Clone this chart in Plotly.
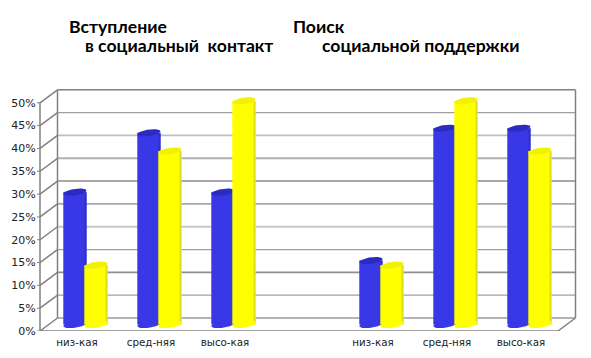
import numpy as np
import plotly.graph_objects as go

# ---- data ----
slots = [0, 1, 2, 4, 5, 6]
tick_labels = ["низ-кая", "сред-няя", "высо-кая", "низ-кая", "сред-няя", "высо-кая"]
blue_values = [29, 42, 29, 14, 43, 43]
yellow_values = [13, 38, 49, 13, 49, 38]
y_ticks = [0, 5, 10, 15, 20, 25, 30, 35, 40, 45, 50]
y_labels = ["0%", "5%", "10%", "15%", "20%", "25%", "30%", "35%", "40%", "45%", "50%"]
grid_widths = [1.6, 1.3, 1.6, 1.3, 1.8, 1.8, 2.0, 2.0, 1.8, 1.3, 1.6]
grid_colors = ["#9a9a9a", "#a0a0a0", "#8f8f8f", "#a0a0a0", "#c8c8c8", "#a8a8a8", "#a8a8a8", "#b0b0b0", "#c0c0c0", "#a0a0a0", "#808080"]

# ---- layout geometry (pixels) ----
W, H = 591, 358
L, R, T, B = 40, 558, 79.87, 331
plot_w, plot_h = R - L, B - T
X_RANGE = (-0.5, 6.5)
Y_RANGE = (0, 55)
ux = plot_w / (X_RANGE[1] - X_RANGE[0])   # px per slot
uy = plot_h / (Y_RANGE[1] - Y_RANGE[0])   # px per percent
DX, DY = 17.5, 13                         # depth of the box
BAR_W = 23.2 / ux
BLUE_OFF = -13.7 / ux
YEL_OFF = 7.3 / ux
BASE = (DY / 2) / uy
STRIP = 2.0 / ux
A = BAR_W / 2
B_CAP = 3.3 / uy
TILT = 1.5 / uy
AXIS = "#808080"

fig = go.Figure()
shapes = []


def line(x0, y0, x1, y1, color=AXIS, width=1.5):
    shapes.append(dict(type="line", xref="paper", yref="y", x0=x0, y0=y0, x1=x1, y1=y1,
                       line=dict(color=color, width=width), layer="below"))


dx_p, dy_u = DX / plot_w, DY / uy
for t, w, c in zip(y_ticks, grid_widths, grid_colors):
    line(dx_p, t + dy_u, dx_p + 1, t + dy_u, c, w)          # back wall
    line(0, t, dx_p, t + dy_u, AXIS, 1.5)                   # side wall
    line(-3 / plot_w, t, 0, t, AXIS, 1)                     # tick mark
line(0, 0, 0, 50)
line(dx_p, dy_u, dx_p, 50 + dy_u)
line(1 + dx_p, dy_u, 1 + dx_p, 50 + dy_u)
line(0, 0, 1, 0)
line(1, 0, 1 + dx_p, dy_u)


def ellipse(cx, cy):
    t = np.linspace(0, 2 * np.pi, 41)
    return cx + A * np.cos(t), cy + B_CAP * np.sin(t) + TILT * np.cos(t)


def add_series(values, off, main, edge, cap, z):
    xs = np.array(slots, dtype=float)
    tops = np.array(values, dtype=float)
    fig.add_trace(go.Bar(x=xs, y=tops, base=BASE, offset=off, width=BAR_W, cliponaxis=False,
                         marker=dict(color=main, line=dict(width=0)), zorder=z, showlegend=False))
    fig.add_trace(go.Bar(x=xs, y=tops, base=BASE, offset=off + BAR_W - STRIP, width=STRIP, cliponaxis=False,
                         marker=dict(color=edge, line=dict(width=0)), zorder=z, showlegend=False))
    # rounded foot and top of each cylinder
    for x, v in zip(xs, tops):
        cx = x + off + A
        ex, ey = ellipse(cx, BASE)
        fig.add_trace(go.Scatter(x=ex, y=ey, mode="lines", fill="toself", fillcolor=main,
                                 line=dict(width=0, color=main), hoverinfo="skip", cliponaxis=False,
                                 showlegend=False, zorder=z))
        tx, ty = ellipse(cx, BASE + v)
        fig.add_trace(go.Scatter(x=tx, y=ty, mode="lines", fill="toself", fillcolor=cap,
                                 line=dict(width=0, color=cap), hoverinfo="skip", cliponaxis=False,
                                 showlegend=False, zorder=z + 1))


add_series(blue_values, BLUE_OFF, "#3838e6", "#2f2fcc", "#2b2bc4", 1)
add_series(yellow_values, YEL_OFF, "#ffff00", "#dede20", "#f2f200", 3)

titles = [
    ("Вступление", 67, 26.5),
    ("в социальный  контакт", 83, 45.5),
    ("Поиск", 291, 26.5),
    ("социальной поддержки", 320, 45.5),
]
annotations = [
    dict(text=s, xref="paper", yref="paper", x=(x - L) / plot_w, y=(B - y) / plot_h,
         xanchor="left", yanchor="middle", showarrow=False,
         font=dict(family="Lato", size=17.6, color="#000000", weight="bold"))
    for s, x, y in titles
]

fig.update_layout(
    width=W, height=H, autosize=False,
    margin=dict(l=L, r=W - R, t=T, b=H - B, pad=0),
    paper_bgcolor="#ffffff", plot_bgcolor="rgba(0,0,0,0)",
    barmode="overlay", shapes=shapes, annotations=annotations, showlegend=False,
    xaxis=dict(range=X_RANGE, tickmode="array", tickvals=slots, ticktext=tick_labels, automargin=False,
               showgrid=False, zeroline=False, showline=False, ticks="outside", ticklen=2,
               tickcolor="rgba(0,0,0,0)",
               tickfont=dict(family="DejaVu Sans", size=10.3, color="#222222")),
    yaxis=dict(range=Y_RANGE, tickmode="array", tickvals=y_ticks, ticktext=y_labels, automargin=False,
               showgrid=False, zeroline=False, showline=False, ticks="outside", ticklen=1,
               tickcolor="rgba(0,0,0,0)",
               tickfont=dict(family="DejaVu Sans", size=11, color="#222222")),
)
fig.write_html("out.html", config=dict(displayModeBar=False),
               post_script="document.body.style.margin='0';")
